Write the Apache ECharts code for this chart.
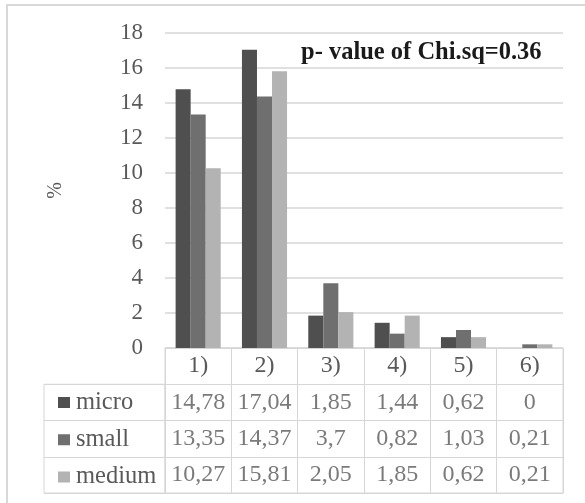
<!DOCTYPE html>
<html>
<head>
<meta charset="utf-8">
<script src="https://cdn.jsdelivr.net/npm/echarts@6/dist/echarts.min.js"></script>
<style>
html,body{margin:0;padding:0;background:#fff;}
#chart{width:585px;height:503px;}
</style>
</head>
<body>
<div id="chart"></div>
<script>
var categories = ['1)', '2)', '3)', '4)', '5)', '6)'];
var seriesNames = ['micro', 'small', 'medium'];
var micro = [14.78, 17.04, 1.85, 1.44, 0.62, 0];
var small = [13.35, 14.37, 3.7, 0.82, 1.03, 0.21];
var medium = [10.27, 15.81, 2.05, 1.85, 0.62, 0.21];
var yTicks = { min: 0, max: 18, interval: 2 };
var titleText = 'p- value of Chi.sq=0.36';
var yName = '%';

var colors = ['#4f4f4f', '#6f6f6f', '#b3b3b3'];
var FONT = 'Liberation Serif';
var TXT = '#595959';
var LINE = '#d6d6d6';
var values = [micro, small, medium];

function fmt(v) { return String(v).replace('.', ','); }

var tableRows = ['head'].concat(seriesNames);
var tableData = [];
values.forEach(function (arr, s) {
  arr.forEach(function (v, i) {
    tableData.push([i, seriesNames[s], v]);
  });
});

var chart = echarts.init(document.getElementById('chart'));
var option = {
  backgroundColor: '#fff',
  animation: false,
  title: {
    text: titleText,
    left: 301, top: 40, padding: 0,
    textStyle: { fontFamily: FONT, fontWeight: 'bold', fontSize: 24.5, color: '#1a1a1a' }
  },
  legend: {
    data: seriesNames,
    orient: 'vertical',
    left: 58, top: 390, padding: 0,
    itemGap: 12.25,
    itemWidth: 12, itemHeight: 11,
    icon: 'rect',
    textStyle: { fontFamily: FONT, fontSize: 24.5, color: TXT, lineHeight: 24, padding: [0, 0, 0, 1] }
  },
  graphic: [{
    type: 'rect',
    shape: { x: 7, y: 5, width: 700, height: 700 },
    style: { fill: 'none', stroke: '#d9d9d9', lineWidth: 2 },
    silent: true
  }],
  grid: [
    { left: 165, right: 22, top: 33, height: 315 },
    { left: 165, right: 22, top: 348, height: 145, show: true, borderColor: LINE, borderWidth: 1 },
    { left: 44, width: 121, top: 348 + 145 / 4, height: 145 * 3 / 4, show: true, borderColor: LINE, borderWidth: 1 }
  ],
  xAxis: [
    {
      type: 'category', gridIndex: 0, data: categories,
      axisLine: { show: true, lineStyle: { color: LINE } },
      axisTick: { show: false },
      axisLabel: { margin: 6, fontFamily: FONT, fontSize: 24, color: TXT }
    },
    {
      type: 'category', gridIndex: 1, data: categories,
      axisLine: { show: false }, axisTick: { show: false }, axisLabel: { show: false },
      splitLine: { show: true, interval: 0, lineStyle: { color: LINE } }
    },
    {
      type: 'category', gridIndex: 2, data: ['x'],
      axisLine: { show: false }, axisTick: { show: false }, axisLabel: { show: false },
      splitLine: { show: false }
    }
  ],
  yAxis: [
    {
      type: 'value', gridIndex: 0,
      min: yTicks.min, max: yTicks.max, interval: yTicks.interval,
      name: yName, nameLocation: 'middle', nameRotate: 90, nameGap: 99,
      nameTextStyle: { fontFamily: FONT, fontSize: 20, color: TXT },
      axisLine: { show: false }, axisTick: { show: false },
      axisLabel: { margin: 22, fontFamily: FONT, fontSize: 23, color: TXT },
      splitLine: { show: true, lineStyle: { color: LINE, width: 1.5 } }
    },
    {
      type: 'category', gridIndex: 1, data: tableRows, inverse: true,
      axisLine: { show: false }, axisTick: { show: false }, axisLabel: { show: false },
      splitLine: { show: true, interval: 0, lineStyle: { color: LINE } }
    },
    {
      type: 'category', gridIndex: 2, data: seriesNames, inverse: true,
      axisLine: { show: false }, axisTick: { show: false }, axisLabel: { show: false },
      splitLine: { show: true, interval: 0, lineStyle: { color: LINE } }
    }
  ],
  series: seriesNames.map(function (name, s) {
    return {
      name: name, type: 'bar', xAxisIndex: 0, yAxisIndex: 0,
      data: values[s],
      barGap: '0%', barCategoryGap: '32%',
      itemStyle: { color: colors[s] }
    };
  }).concat([{
    name: 'table', type: 'scatter', xAxisIndex: 1, yAxisIndex: 1,
    data: tableData, symbolSize: 1, silent: true,
    itemStyle: { color: 'rgba(0,0,0,0)' },
    label: {
      show: true, position: 'inside',
      formatter: function (p) { return fmt(p.value[2]); },
      fontFamily: FONT, fontSize: 24, color: TXT
    }
  }]),
  color: colors
};
chart.setOption(option);
</script>
</body>
</html>
